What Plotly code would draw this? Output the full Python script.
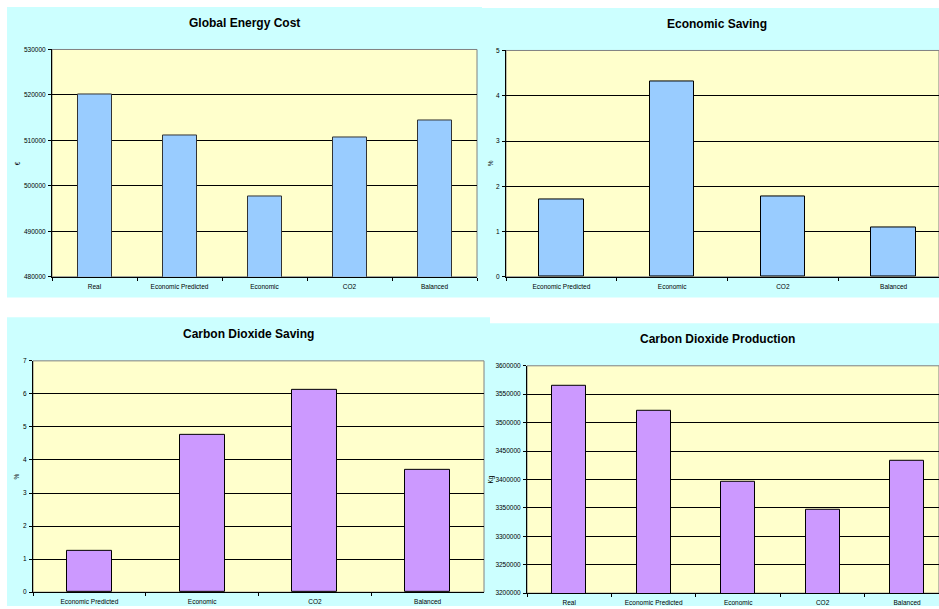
import plotly.graph_objects as go

# ---------------- data ----------------
cost_categories = ["Real", "Economic Predicted", "Economic", "CO2", "Balanced"]
cost_values = [520000, 511050, 497650, 510750, 514300]

saving_categories = ["Economic Predicted", "Economic", "CO2", "Balanced"]
economic_saving = [1.72, 4.31, 1.78, 1.09]

co2_saving = [1.25, 4.75, 6.12, 3.70]

prod_categories = ["Real", "Economic Predicted", "Economic", "CO2", "Balanced"]
co2_production = [3565000, 3520500, 3396000, 3346700, 3433500]

titles = ["Global Energy Cost", "Economic Saving", "Carbon Dioxide Saving", "Carbon Dioxide Production"]
y_titles = ["€", "%", "%", "Kg"]

W, H = 939, 609
BLUE = "#99CCFF"
PURPLE = "#CC99FF"
CYAN = "#CCFFFF"
YELLOW = "#FFFFCC"
FONT = "Liberation Sans, Arial, sans-serif"


def px(x):
    return x / W


def py(y):
    return 1 - y / H


fig = go.Figure()

fig.add_trace(go.Bar(x=cost_categories, y=cost_values, width=0.4,
                     marker=dict(color=BLUE, line=dict(color="#333333", width=1)),
                     xaxis="x", yaxis="y"))
fig.add_trace(go.Bar(x=saving_categories, y=economic_saving, width=0.4,
                     marker=dict(color=BLUE, line=dict(color="#000000", width=1)),
                     xaxis="x2", yaxis="y2"))
fig.add_trace(go.Bar(x=saving_categories, y=co2_saving, width=0.4,
                     marker=dict(color=PURPLE, line=dict(color="#000000", width=1)),
                     xaxis="x3", yaxis="y3"))
fig.add_trace(go.Bar(x=prod_categories, y=co2_production, width=0.4,
                     marker=dict(color=PURPLE, line=dict(color="#000000", width=1)),
                     xaxis="x4", yaxis="y4"))

# panel geometry (pixels): cyan box, plot box
panels = [
    dict(cyan=(7, 3, 482, 297), plot=(52, 46, 477, 276), xr=[-0.5, 4.5],
         yr=[480000, 530000], dt=10000, title=(244, 19), ytitle=(17, 161)),
    dict(cyan=(482, 4, 939, 297), plot=(506, 47, 939, 276), xr=[-0.5, 3.41],
         yr=[0, 5], dt=1, title=(717, 20), ytitle=(490, 161)),
    dict(cyan=(7, 317, 490, 609), plot=(33, 361, 484, 595), xr=[-0.5, 3.5],
         yr=[0, 7], dt=1, title=(248, 334), ytitle=(17, 478)),
    dict(cyan=(490, 323, 939, 609), plot=(527, 366, 939, 596), xr=[-0.5, 4.378],
         yr=[3200000, 3600000], dt=50000, title=(717, 339), ytitle=(491, 481)),
]

shapes = []
annotations = []
layout_axes = {}
for i, p in enumerate(panels):
    cx0, cy0, cx1, cy1 = p["cyan"]
    shapes.append(dict(type="rect", xref="paper", yref="paper", layer="below",
                       x0=px(cx0), x1=px(cx1), y0=py(cy1), y1=py(cy0),
                       fillcolor=CYAN, line=dict(width=0)))
    x0, y0, x1, y1 = p["plot"]
    shapes.append(dict(type="rect", xref="paper", yref="paper", layer="below",
                       x0=px(x0), x1=px(x1), y0=py(y1), y1=py(y0),
                       fillcolor=YELLOW, line=dict(width=1, color="#808080")))
    sfx = "" if i == 0 else str(i + 1)
    layout_axes["xaxis" + sfx] = dict(
        domain=[px(x0), min(1, px(x1))], anchor="y" + sfx, type="category",
        range=p["xr"], showline=True, linecolor="#000000", linewidth=1,
        ticks="outside", tickson="boundaries", ticklen=3, tickcolor="#000000",
        ticklabelstandoff=3,
        showgrid=False, tickfont=dict(family=FONT, size=6.5, color="#000000"),
        fixedrange=True)
    layout_axes["yaxis" + sfx] = dict(
        domain=[py(y1), py(y0)], anchor="x" + sfx, range=p["yr"], dtick=p["dt"],
        tick0=p["yr"][0], tickformat="d", showline=True, linecolor="#000000",
        linewidth=1, ticks="outside", ticklen=3, tickcolor="#000000",
        ticklabelstandoff=1,
        showgrid=True, gridcolor="#000000", gridwidth=1, zeroline=False,
        tickfont=dict(family=FONT, size=6.5, color="#000000"), fixedrange=True)
    tx, ty = p["title"]
    annotations.append(dict(text="<b>" + titles[i] + "</b>", xref="paper", yref="paper",
                            x=px(tx), y=py(ty), showarrow=False, xanchor="center",
                            yanchor="middle", font=dict(family=FONT, size=12, color="#000000")))
    ax, ay = p["ytitle"]
    annotations.append(dict(text=y_titles[i], xref="paper", yref="paper",
                            x=px(ax), y=py(ay), showarrow=False, textangle=-90,
                            xanchor="center", yanchor="middle",
                            font=dict(family=FONT, size=6.5, color="#000000")))

fig.update_layout(
    width=W, height=H, margin=dict(l=0, r=0, t=0, b=0, pad=0),
    paper_bgcolor="#FFFFFF", plot_bgcolor="rgba(0,0,0,0)",
    showlegend=False, bargap=0, shapes=shapes, annotations=annotations,
    **layout_axes,
)

fig.write_html("out.html", config={"displayModeBar": False})
